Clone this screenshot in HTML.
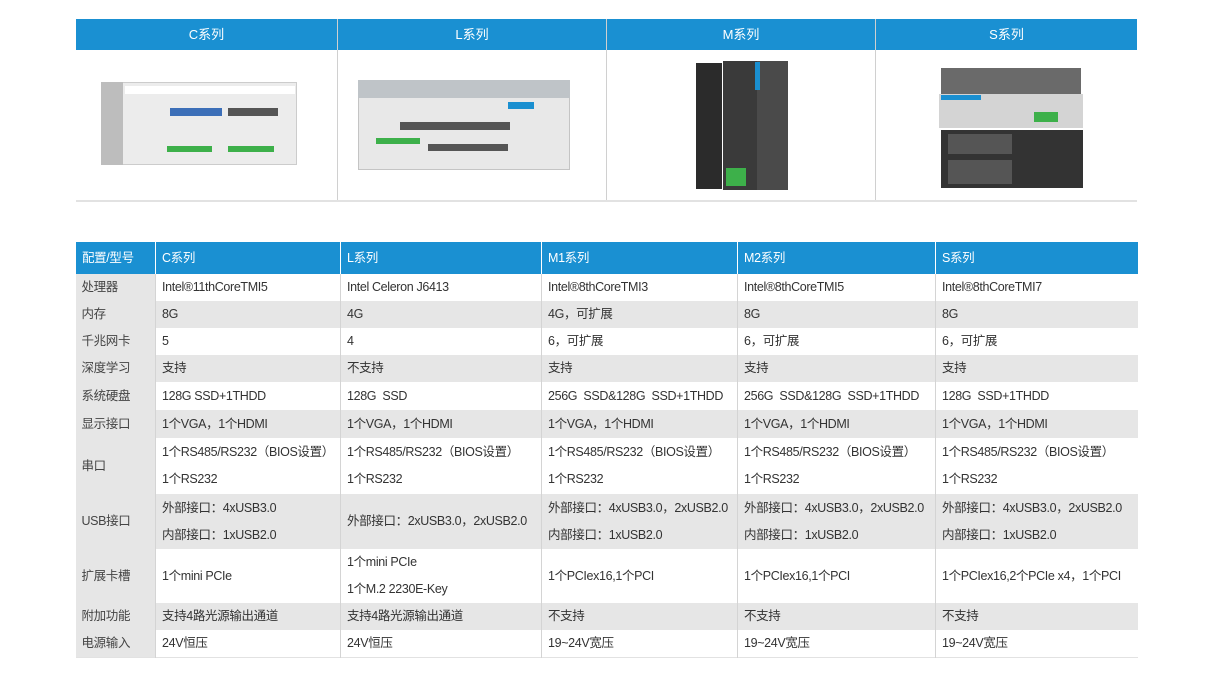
<!DOCTYPE html>
<html><head><meta charset="utf-8">
<style>
*{margin:0;padding:0;box-sizing:border-box}
body{width:1222px;height:679px;background:#fff;position:relative;overflow:hidden;font-family:"Liberation Sans","Noto Sans CJK SC",sans-serif;}
.abs{position:absolute}
.th{position:absolute;top:19px;height:31px;background:#1a90d2;color:#fff;font-size:13px;line-height:31px;text-align:center}
.vl{position:absolute;width:1px;background:#d0d0d0}
table{position:absolute;left:75px;top:242px;border-collapse:collapse;table-layout:fixed;width:1062px;font-size:12.5px;letter-spacing:-0.35px;color:#333}
td{padding:0 0 0 6px;vertical-align:middle;border-left:1px solid #d4d4d4;white-space:nowrap;line-height:27px;overflow:hidden}
td:first-child{border-left:none;background:#e6e6e6;color:#444}
tr.h td{background:#1a90d2;color:#fff;height:32px;border-left:1px solid #fff}
tr.g td{background:#e6e6e6}
tr.h td:first-child{background:#1a90d2}
.box{position:absolute}
</style></head><body>
<div class="th" style="left:76px;width:261px">C系列</div>
<div class="th" style="left:338px;width:268px">L系列</div>
<div class="th" style="left:607px;width:268px">M系列</div>
<div class="th" style="left:876px;width:261px">S系列</div>
<div class="vl" style="left:337px;top:19px;height:182px"></div>
<div class="vl" style="left:606px;top:19px;height:182px"></div>
<div class="vl" style="left:875px;top:19px;height:182px"></div>
<div class="abs" style="left:76px;top:200px;width:1061px;height:2px;background:#e2e2e2"></div>

<div class="box" style="left:101px;top:82px;width:196px;height:83px;background:#ececec;border:1px solid #ccc"></div>
<div class="box" style="left:101px;top:82px;width:22px;height:83px;background:#bdbdbd"></div>
<div class="box" style="left:125px;top:86px;width:170px;height:8px;background:#fff"></div>
<div class="box" style="left:170px;top:108px;width:52px;height:8px;background:#3c6fb8"></div>
<div class="box" style="left:228px;top:108px;width:50px;height:8px;background:#555"></div>
<div class="box" style="left:167px;top:146px;width:45px;height:6px;background:#3db04a"></div>
<div class="box" style="left:228px;top:146px;width:46px;height:6px;background:#3db04a"></div>
<div class="box" style="left:358px;top:80px;width:212px;height:90px;background:#e8e8e8;border:1px solid #c4c4c4"></div>
<div class="box" style="left:358px;top:80px;width:212px;height:18px;background:#bfc4c8"></div>
<div class="box" style="left:508px;top:102px;width:26px;height:7px;background:#1a8fd0"></div>
<div class="box" style="left:400px;top:122px;width:110px;height:8px;background:#555"></div>
<div class="box" style="left:376px;top:138px;width:44px;height:6px;background:#3db04a"></div>
<div class="box" style="left:428px;top:144px;width:80px;height:7px;background:#555"></div>
<div class="box" style="left:696px;top:63px;width:26px;height:126px;background:#2b2b2b"></div>
<div class="box" style="left:723px;top:61px;width:34px;height:129px;background:#3a3a3a"></div>
<div class="box" style="left:757px;top:61px;width:31px;height:129px;background:#4a4a4a"></div>
<div class="box" style="left:755px;top:62px;width:5px;height:28px;background:#1a8fd0"></div>
<div class="box" style="left:726px;top:168px;width:20px;height:18px;background:#3db04a"></div>
<div class="box" style="left:941px;top:68px;width:140px;height:26px;background:#6a6a6a"></div>
<div class="box" style="left:939px;top:94px;width:144px;height:34px;background:#d4d4d4"></div>
<div class="box" style="left:941px;top:95px;width:40px;height:5px;background:#1a8fd0"></div>
<div class="box" style="left:1034px;top:112px;width:24px;height:10px;background:#3db04a"></div>
<div class="box" style="left:941px;top:130px;width:142px;height:58px;background:#333"></div>
<div class="box" style="left:948px;top:134px;width:64px;height:20px;background:#555"></div>
<div class="box" style="left:948px;top:160px;width:64px;height:24px;background:#555"></div>

<table>
<colgroup><col style="width:80px"><col style="width:185px"><col style="width:201px"><col style="width:196px"><col style="width:198px"><col style="width:202px"></colgroup>
<tr class="h"><td>配置/型号</td><td>C系列</td><td>L系列</td><td>M1系列</td><td>M2系列</td><td>S系列</td></tr>
<tr style="height:26px"><td>处理器</td><td>Intel®11thCoreTMI5</td><td>Intel Celeron J6413</td><td>Intel®8thCoreTMI3</td><td>Intel®8thCoreTMI5</td><td>Intel®8thCoreTMI7</td></tr>
<tr class="g" style="height:27px"><td>内存</td><td>8G</td><td>4G</td><td>4G，可扩展</td><td>8G</td><td>8G</td></tr>
<tr style="height:27px"><td>千兆网卡</td><td>5</td><td>4</td><td>6，可扩展</td><td>6，可扩展</td><td>6，可扩展</td></tr>
<tr class="g" style="height:27px"><td>深度学习</td><td>支持</td><td>不支持</td><td>支持</td><td>支持</td><td>支持</td></tr>
<tr style="height:28px"><td>系统硬盘</td><td>128G SSD+1THDD</td><td>128G&nbsp; SSD</td><td>256G&nbsp; SSD&amp;128G&nbsp; SSD+1THDD</td><td>256G&nbsp; SSD&amp;128G&nbsp; SSD+1THDD</td><td>128G&nbsp; SSD+1THDD</td></tr>
<tr class="g" style="height:28px"><td>显示接口</td><td>1个VGA，1个HDMI</td><td>1个VGA，1个HDMI</td><td>1个VGA，1个HDMI</td><td>1个VGA，1个HDMI</td><td>1个VGA，1个HDMI</td></tr>
<tr style="height:56px"><td>串口</td><td>1个RS485/RS232（BIOS设置）<br>1个RS232</td><td>1个RS485/RS232（BIOS设置）<br>1个RS232</td><td>1个RS485/RS232（BIOS设置）<br>1个RS232</td><td>1个RS485/RS232（BIOS设置）<br>1个RS232</td><td>1个RS485/RS232（BIOS设置）<br>1个RS232</td></tr>
<tr class="g" style="height:55px"><td>USB接口</td><td>外部接口：4xUSB3.0<br>内部接口：1xUSB2.0</td><td>外部接口：2xUSB3.0，2xUSB2.0</td><td>外部接口：4xUSB3.0，2xUSB2.0<br>内部接口：1xUSB2.0</td><td>外部接口：4xUSB3.0，2xUSB2.0<br>内部接口：1xUSB2.0</td><td>外部接口：4xUSB3.0，2xUSB2.0<br>内部接口：1xUSB2.0</td></tr>
<tr style="height:54px"><td>扩展卡槽</td><td>1个mini PCIe</td><td>1个mini PCIe<br>1个M.2 2230E-Key</td><td>1个PCIex16,1个PCI</td><td>1个PCIex16,1个PCI</td><td>1个PCIex16,2个PCIe x4，1个PCI</td></tr>
<tr class="g" style="height:27px"><td>附加功能</td><td>支持4路光源输出通道</td><td>支持4路光源输出通道</td><td>不支持</td><td>不支持</td><td>不支持</td></tr>
<tr style="height:27px;border-bottom:1px solid #e2e2e2"><td>电源输入</td><td>24V恒压</td><td>24V恒压</td><td>19~24V宽压</td><td>19~24V宽压</td><td>19~24V宽压</td></tr>
</table>
</body></html>
